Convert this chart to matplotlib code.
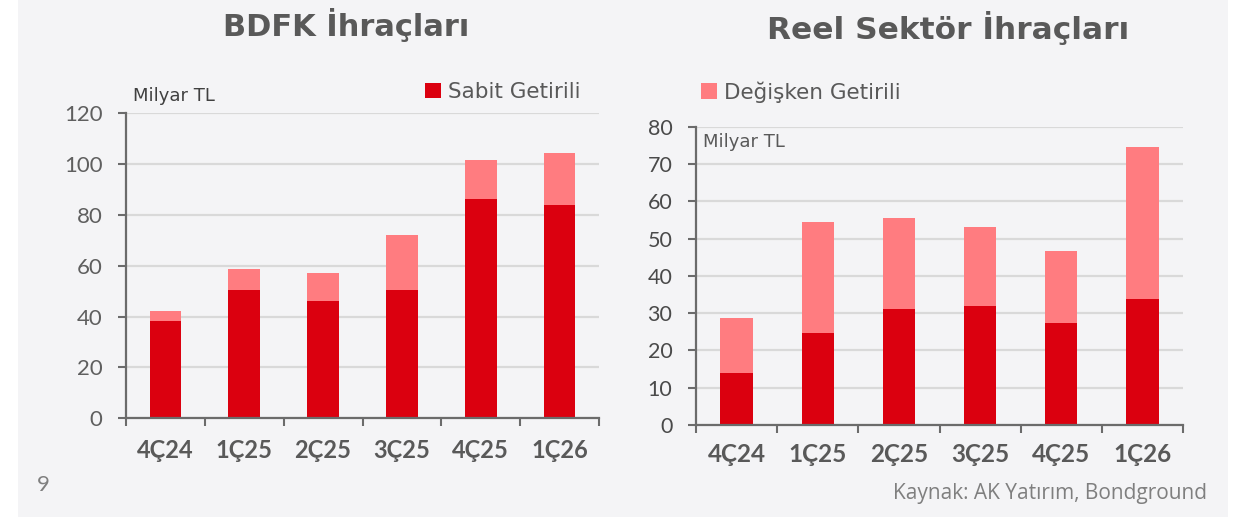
import matplotlib
matplotlib.use("Agg")
import matplotlib.pyplot as plt
from matplotlib.patches import Rectangle, Patch

plt.rcParams['font.family'] = ['Lato', 'DejaVu Sans']

categories = ["4Ç24", "1Ç25", "2Ç25", "3Ç25", "4Ç25", "1Ç26"]
bdfk_sabit = [38.3, 50.5, 46.2, 50.4, 86.3, 83.7]
bdfk_total = [42.2, 58.8, 57.3, 72.2, 101.4, 104.3]
reel_sabit = [14.0, 24.8, 31.2, 32.0, 27.4, 33.9]
reel_total = [28.7, 54.4, 55.6, 53.1, 46.6, 74.6]
bdfk_degisken = [t - s for t, s in zip(bdfk_total, bdfk_sabit)]
reel_degisken = [t - s for t, s in zip(reel_total, reel_sabit)]

left_ticks = [0, 20, 40, 60, 80, 100, 120]
right_ticks = [0, 10, 20, 30, 40, 50, 60, 70, 80]

DARK = "#db000f"
LIGHT = "#ff7c80"
GRID = "#d9d9d9"
AX = "#6b6b6b"
TXT = "#595959"
BG = "#f4f4f6"
DJ = ['DejaVu Sans']

W, H = 1241, 519
fig = plt.figure(figsize=(W / 100, H / 100), dpi=100)
fig.patch.set_facecolor("white")
fig.add_artist(Rectangle((18 / W, (H - 517) / H), (1228 - 18) / W, 517 / H,
                         transform=fig.transFigure, facecolor=BG, edgecolor="none", zorder=-10))


def make_axes(px_left, px_right, px_top, px_bottom):
    return fig.add_axes([px_left / W, (H - px_bottom) / H,
                         (px_right - px_left) / W, (px_bottom - px_top) / H])


def style(ax, ticks, ylab_size, ylab_color, xlab_size, xpad):
    ax.set_facecolor("none")
    x = list(range(len(categories)))
    ax.set_xlim(-0.5, len(categories) - 0.5)
    ax.set_ylim(ticks[0], ticks[-1])
    ax.set_yticks(ticks)
    ax.set_yticklabels([str(t) for t in ticks], fontsize=ylab_size, color=ylab_color)
    ax.set_xticks(x)
    ax.set_xticklabels(categories, fontsize=xlab_size, fontweight="bold", color=TXT)
    ax.set_xticks([i - 0.5 for i in range(len(categories) + 1)], minor=True)
    ax.tick_params(axis="x", which="major", length=0, pad=xpad)
    ax.tick_params(axis="x", which="minor", length=6, width=1.5, color=AX, direction="out")
    ax.tick_params(axis="y", length=6, width=1.5, color=AX, direction="out", pad=11)
    for s in ["top", "right"]:
        ax.spines[s].set_visible(False)
    for s in ["left", "bottom"]:
        ax.spines[s].set_color(AX)
        ax.spines[s].set_linewidth(1.6)
        ax.spines[s].set_zorder(5)
    ax.grid(axis="y", color=GRID, linewidth=1.6, zorder=0)
    ax.set_axisbelow(True)


x = list(range(len(categories)))

# Left chart
ax1 = make_axes(126, 599, 113.2, 418.3)
ax1.bar(x, bdfk_sabit, width=0.4, color=DARK, zorder=3)
ax1.bar(x, bdfk_degisken, width=0.4, bottom=bdfk_sabit, color=LIGHT, zorder=3)
style(ax1, left_ticks, 16, "#5f5f5f", 17, 15)

# Right chart
ax2 = make_axes(696, 1183, 126.7, 425)
ax2.bar(x, reel_sabit, width=0.4, color=DARK, zorder=3)
ax2.bar(x, reel_degisken, width=0.4, bottom=reel_sabit, color=LIGHT, zorder=3)
style(ax2, right_ticks, 15.5, "#4a4a4a", 17.5, 13)

# Titles
fig.text(346 / W, 1 - 25 / H, "BDFK İhraçları", fontsize=22, fontweight="bold",
         color=TXT, ha="center", va="center", family=DJ)
fig.text(948 / W, 1 - 28 / H, "Reel Sektör İhraçları", fontsize=22.5, fontweight="bold",
         color=TXT, ha="center", va="center", family=DJ)

# Unit labels
fig.text(133 / W, 1 - 96 / H, "Milyar TL", fontsize=13, color="#404040",
         ha="left", va="center", family=DJ)
fig.text(703 / W, 1 - 142 / H, "Milyar TL", fontsize=13, color=TXT,
         ha="left", va="center", family=DJ)

# Legends
for color, label, xpos in [(DARK, "Sabit Getirili", 425), (LIGHT, "Değişken Getirili", 701)]:
    leg = fig.legend(handles=[Patch(facecolor=color, edgecolor="none")], labels=[label],
                     loc="center left", bbox_to_anchor=(xpos / W, 1 - 92 / H), frameon=False,
                     prop={'family': DJ, 'size': 15.5}, handlelength=0.75, handleheight=0.75,
                     handletextpad=0.3, borderaxespad=0, borderpad=0)
    for t in leg.get_texts():
        t.set_color(TXT)

# Footer
fig.text(43.5 / W, 1 - 485 / H, "9", fontsize=16, color="#7f7f7f", ha="center", va="center")
fig.text(1207 / W, 1 - 494 / H, "Kaynak: AK Yatırım, Bondground", fontsize=15,
         color="#7f7f7f", ha="right", va="center", family=['Open Sans', 'DejaVu Sans'])

fig.savefig("out.png", dpi=100, facecolor=fig.get_facecolor())
